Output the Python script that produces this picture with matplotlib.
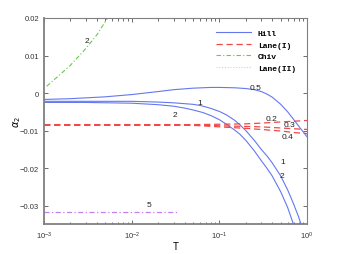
import numpy as np
import matplotlib
matplotlib.use("Agg")
import matplotlib.pyplot as plt

# Hill curves (labelled by parameter)
T_h05 = [0.001, 0.002, 0.005, 0.01, 0.02, 0.03, 0.05, 0.08, 0.1, 0.15, 0.2,
         0.25, 0.3, 0.35, 0.4, 0.5, 0.6, 0.7, 0.8, 0.9, 1.0]
a_h05 = [-0.0017, -0.0015, -0.0010, -0.0004, 0.0004, 0.0009, 0.0013, 0.0015,
         0.0015, 0.0014, 0.0012, 0.0009, 0.0004, -0.0003, -0.0011, -0.0030,
         -0.0050, -0.0070, -0.0088, -0.0103, -0.0117]
T_h1 = [0.001, 0.003, 0.01, 0.02, 0.03, 0.05, 0.06, 0.07, 0.08, 0.1, 0.12, 0.15,
        0.17, 0.2, 0.25, 0.3, 0.35, 0.4, 0.5, 0.6, 0.7, 0.8, 0.86]
a_h1 = [-0.0022, -0.0022, -0.0022, -0.0024, -0.0026, -0.0030, -0.0033, -0.0037,
        -0.0041, -0.0049, -0.0058, -0.0073, -0.0084, -0.0100, -0.0126, -0.0150,
        -0.0168, -0.0186, -0.0221, -0.0258, -0.0295, -0.0330, -0.0352]
T_h2 = [0.001, 0.003, 0.01, 0.02, 0.03, 0.04, 0.05, 0.065, 0.08, 0.1, 0.12,
        0.15, 0.17, 0.2, 0.25, 0.3, 0.35, 0.4, 0.5, 0.6, 0.7]
a_h2 = [-0.0025, -0.0025, -0.0027, -0.0031, -0.0035, -0.0040, -0.0045, -0.0052,
        -0.0060, -0.0071, -0.0083, -0.0099, -0.0109, -0.0126, -0.0154, -0.0180,
        -0.0201, -0.0221, -0.0263, -0.0305, -0.0350]

# Lane(I) curves
T_l = [0.001, 0.01, 0.05, 0.1, 0.2, 0.3, 0.5, 0.7, 1.0]
a_l02 = [-0.0084, -0.0084, -0.0084, -0.0083, -0.0082, -0.0080, -0.0077, -0.0075, -0.0073]
a_l03 = [-0.0085, -0.0085, -0.0085, -0.0087, -0.0089, -0.0090, -0.0093, -0.0095, -0.0097]
a_l04 = [-0.0086, -0.0086, -0.0086, -0.0090, -0.0094, -0.0097, -0.0101, -0.0105, -0.0108]

# Chiv curve
T_ch = [0.00107, 0.0015, 0.002, 0.003, 0.004, 0.0053]
a_ch = [0.0018, 0.0048, 0.0074, 0.0119, 0.0155, 0.0200]

# Lane(II) line
T_l2 = [0.001, 0.035]
a_l2 = [-0.0317, -0.0317]

# curve labels: (text, T, alpha)
labels = [("0.5", 0.26, 0.0014), ("1", 0.06, -0.0026), ("2", 0.031, -0.0056),
          ("0.2", 0.39, -0.0067), ("0.3", 0.63, -0.0085), ("0.4", 0.60, -0.0116),
          ("1", 0.52, -0.0182), ("2", 0.52, -0.0219), ("2", 0.0031, 0.0139),
          ("5", 0.0159, -0.0298)]

blue = '#6478f0'
red = '#f04848'
green = '#66cc44'
purple = '#c57ff2'
pink = '#f5b8f0'

fig = plt.figure(figsize=(3.39, 2.55), dpi=100)
ax = fig.add_axes([0.130, 0.1157, 0.776, 0.81])

ax.plot(T_h05, a_h05, color=blue, lw=0.8, label='Hill')
ax.plot(T_h1, a_h1, color=blue, lw=0.8)
ax.plot(T_h2, a_h2, color=blue, lw=0.8)
ax.plot(T_l, a_l02, color=red, lw=0.9, ls=(0, (5, 3)), label='Lane(I)')
ax.plot(T_l, a_l03, color=red, lw=0.9, ls=(0, (5, 3)))
ax.plot(T_l, a_l04, color=red, lw=0.9, ls=(0, (5, 3)))
ax.plot(T_ch, a_ch, color=green, lw=0.8, ls=(0, (4, 2, 1, 2)), label='Chiv')
ax.plot([], [], color=pink, lw=0.8, ls=(0, (1, 1.5)), label='Lane(II)')
ax.plot(T_l2, a_l2, color=purple, lw=0.9, ls=(0, (4, 2, 1, 2)))

for txt, t, a in labels:
    ax.text(t, a, txt, fontsize=6, ha='center', va='center', color='#222222',
            family='Liberation Sans')

ax.set_xscale('log')
ax.set_xlim(1e-3, 1)
ax.set_ylim(-0.035, 0.02)
ax.set_yticks([-0.03, -0.02, -0.01, 0, 0.01, 0.02])
ax.set_yticklabels(['\u22120.03', '\u22120.02', '\u22120.01', '0', '0.01', '0.02'])
ax.tick_params(which='both', direction='in', top=True, right=True,
               labelsize=5.5, colors='#333333')
ax.tick_params(which='major', length=3, width=0.5)
ax.tick_params(which='minor', length=1.8, width=0.5)
for lab in ax.get_yticklabels() + ax.get_xticklabels():
    lab.set_family('Liberation Sans')
for s in ['left', 'bottom']:
    ax.spines[s].set_linewidth(1.3)
    ax.spines[s].set_color('#808080')
for s in ['top', 'right']:
    ax.spines[s].set_linewidth(0.8)
    ax.spines[s].set_color('#808080')

ax.set_xlabel('T', fontsize=7, labelpad=0, family='Liberation Sans')
ax.set_ylabel(r'$\alpha_2$', fontsize=7, labelpad=-2)

leg = ax.legend(loc='upper right', frameon=False,
                prop={'family': 'Liberation Mono', 'weight': 'bold', 'size': 5.8},
                handlelength=4.3, handletextpad=0.9, labelspacing=0.5,
                borderaxespad=1.0)

fig.savefig('out.png', dpi=100)
